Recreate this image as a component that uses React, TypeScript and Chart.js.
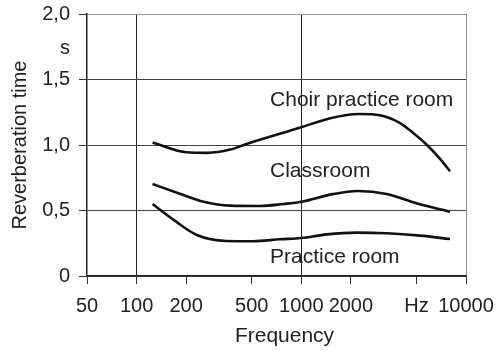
import { useEffect, useRef } from "react";
import { Chart, registerables } from "chart.js";

Chart.register(...registerables);

// Axis ticks
const frequencyTicks = [50, 100, 200, 500, 1000, 2000, 5000, 10000];
const frequencyTickLabels = ["50", "100", "200", "500", "1000", "2000", "Hz", "10000"];
const timeTicks = [0, 0.5, 1, 1.5, 2];
const timeTickLabels = ["0", "0,5", "1,0", "1,5", "2,0"];

// Reverberation time (s) against frequency (Hz)
const choirFreq = [125, 200, 270, 370, 470, 1000, 1500, 2250, 3000, 4000, 4800, 5800, 7000, 8000];
const choirTime = [1.02, 0.945, 0.94, 0.965, 1.01, 1.135, 1.205, 1.237, 1.227, 1.166, 1.09, 1.0, 0.89, 0.8];

const classroomFreq = [125, 185, 255, 370, 560, 780, 1000, 1550, 2200, 3300, 5000, 8000];
const classroomTime = [0.702, 0.626, 0.567, 0.537, 0.534, 0.55, 0.567, 0.625, 0.649, 0.626, 0.555, 0.49];

const practiceFreq = [125, 167, 232, 350, 510, 740, 1000, 1430, 2170, 3300, 5260, 8000];
const practiceTime = [0.55, 0.43, 0.313, 0.267, 0.265, 0.28, 0.29, 0.318, 0.331, 0.326, 0.308, 0.282];

// Curve names, anchored in data space (left end of text, baseline)
const roomNames = ["Choir practice room", "Classroom", "Practice room"];
const roomNameFreq = [646, 646, 646];
const roomNameTime = [1.298, 0.756, 0.099];

const FONT = '"Liberation Sans", Arial, Helvetica, sans-serif';
const INK = "#222";

const toPoints = (xs: number[], ys: number[]) => xs.map((x, i) => ({ x, y: ys[i] }));

const textPlugin = {
  id: "curveText",
  afterDatasetsDraw(chart: any) {
    const { ctx, chartArea, scales } = chart;
    const x = scales.x;
    const y = scales.y;
    ctx.save();
    ctx.font = `21px ${FONT}`;
    ctx.fillStyle = INK;
    ctx.textBaseline = "alphabetic";
    ctx.textAlign = "left";
    roomNames.forEach((name, i) => {
      ctx.fillText(name, x.getPixelForValue(roomNameFreq[i]), y.getPixelForValue(roomNameTime[i]));
    });
    ctx.textAlign = "center";
    ctx.fillText("Frequency", (chartArea.left + chartArea.right) / 2 + 8, chartArea.bottom + 66);
    ctx.font = `20px ${FONT}`;
    ctx.fillText("s", chartArea.left - 22, y.getPixelForValue(2) + 40);
    ctx.restore();
  },
};

const lineStyle = {
  borderColor: "#111",
  borderWidth: 2.6,
  pointRadius: 0,
  fill: false,
  cubicInterpolationMode: "monotone" as const,
};

export default function App() {
  const canvasRef = useRef<HTMLCanvasElement | null>(null);

  useEffect(() => {
    const canvas = canvasRef.current;
    if (!canvas) return;
    const chart = new Chart(canvas, {
      type: "line",
      data: {
        datasets: [
          { label: "Choir practice room", data: toPoints(choirFreq, choirTime), ...lineStyle },
          { label: "Classroom", data: toPoints(classroomFreq, classroomTime), ...lineStyle },
          { label: "Practice room", data: toPoints(practiceFreq, practiceTime), ...lineStyle },
        ],
      },
      options: {
        responsive: false,
        animation: false,
        layout: { padding: { top: 14, right: 31, left: 0, bottom: 0 } },
        plugins: { legend: { display: false }, tooltip: { enabled: false } },
        scales: {
          x: {
            type: "logarithmic",
            min: 50,
            max: 10000,
            afterBuildTicks: (scale: any) => {
              scale.ticks = frequencyTicks.map((value) => ({ value }));
            },
            afterFit: (scale: any) => {
              scale.height = 74;
              scale.paddingLeft = 0;
              scale.paddingRight = 0;
            },
            ticks: {
              autoSkip: false,
              maxRotation: 0,
              padding: 10,
              color: INK,
              font: { size: 20, family: FONT },
              callback: (_v: any, i: number) => frequencyTickLabels[i],
            },
            grid: {
              color: (ctx: any) => {
                const v = ctx.tick?.value;
                if (v === 100 || v === 1000) return "#222";
                if (v === 10000) return "#888";
                return "rgba(0,0,0,0)";
              },
              tickColor: "#333",
              tickLength: 8,
              lineWidth: 1,
            },
            border: { display: true, color: "#222", width: 1.5 },
          },
          y: {
            type: "linear",
            min: 0,
            max: 2,
            afterBuildTicks: (scale: any) => {
              scale.ticks = timeTicks.map((value) => ({ value }));
            },
            afterFit: (scale: any) => {
              scale.width = 87;
              scale.paddingTop = 0;
              scale.paddingBottom = 0;
            },
            ticks: {
              padding: 9,
              color: INK,
              font: { size: 20, family: FONT },
              callback: (_v: any, i: number) => timeTickLabels[i],
            },
            grid: {
              color: (ctx: any) => (ctx.tick?.value === 2 ? "#999" : "#444"),
              tickColor: "#333",
              tickLength: 8,
              lineWidth: 1,
            },
            border: { display: true, color: "#222", width: 1.5 },
            title: {
              display: true,
              text: "Reverberation time",
              color: INK,
              font: { size: 20, family: FONT },
              padding: { top: 8, bottom: 0 },
            },
          },
        },
      },
      plugins: [textPlugin],
    });
    return () => chart.destroy();
  }, []);

  return (
    <div style={{ position: "fixed", left: 0, top: 0, width: 497, height: 350, background: "#fff" }}>
      <canvas ref={canvasRef} width={497} height={350} style={{ display: "block" }} />
    </div>
  );
}
